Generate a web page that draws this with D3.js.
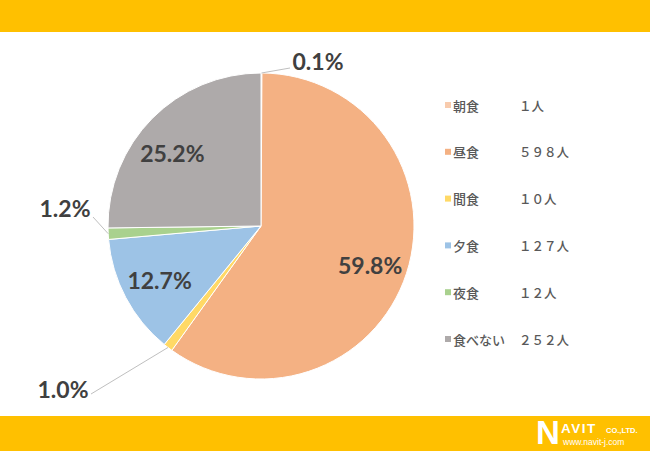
<!DOCTYPE html>
<html><head><meta charset="utf-8">
<script src="https://cdn.jsdelivr.net/npm/d3@7"></script>
<style>
html,body{margin:0;padding:0;background:#fff;}
svg{display:block;}
</style></head>
<body>
<svg id="chart" width="650" height="451"></svg>
<script>
const categories = ["朝食","昼食","間食","夕食","夜食","食べない"];
const counts = [1, 598, 10, 127, 12, 252];
const countLabels = ["１人","５９８人","１０人","１２７人","１２人","２５２人"];
const percentLabels = ["0.1%","59.8%","1.0%","12.7%","1.2%","25.2%"];
const colors = ["#F8CBAD","#F4B183","#FFD966","#9DC3E6","#A9D18E","#AEAAAA"];
// outside-label layout (text centre and leader end, relative to pie centre) for the small slices
const outsideLabels = { 0: [57, -165, 29, -158], 2: [-198, 163, -170, 168], 4: [-196, -18, -168, -9] };
// small nudges for inside labels (Excel-style placement)
const insideNudge = { 1: [0, 4], 3: [0, 0], 5: [-7, 8] };

const W = 650, H = 451;
const cx = 261, cy = 226, r = 153;
const svg = d3.select("#chart");

svg.append("rect").attr("x",0).attr("y",0).attr("width",W).attr("height",32).attr("fill","#FFC000");
svg.append("rect").attr("x",0).attr("y",416).attr("width",W).attr("height",H-416).attr("fill","#FFC000");

const pie = d3.pie().value(d => d).sort(null);
const arcs = pie(counts);
const arc = d3.arc().innerRadius(0).outerRadius(r);
const labelArc = d3.arc().innerRadius(r*0.5).outerRadius(r);
const edgeArc = d3.arc().innerRadius(r).outerRadius(r);

const g = svg.append("g").attr("transform", `translate(${cx},${cy})`);
g.selectAll("path.slice").data(arcs).enter().append("path")
  .attr("class","slice")
  .attr("d", arc)
  .attr("fill", (d,i) => colors[i])
  .attr("stroke", "#fff").attr("stroke-width", 1);

const labelFont = "Lato, 'Open Sans', sans-serif";
arcs.forEach((d,i) => {
  if (outsideLabels[i]) {
    const [tx, ty, lx, ly] = outsideLabels[i];
    const p = edgeArc.centroid(d);
    g.append("line").attr("x1", p[0]).attr("y1", p[1]).attr("x2", lx).attr("y2", ly)
      .attr("stroke", "#BFBFBF").attr("stroke-width", 1);
    g.append("text").attr("x", tx).attr("y", ty).attr("text-anchor","middle")
      .attr("dominant-baseline","central")
      .attr("font-family", labelFont).attr("font-weight", 700).attr("font-size", 23)
      .attr("fill", "#404040").text(percentLabels[i]);
  } else {
    const c = labelArc.centroid(d);
    const n = insideNudge[i] || [0,0];
    g.append("text").attr("x", c[0] + n[0]).attr("y", c[1] + n[1]).attr("text-anchor","middle")
      .attr("dominant-baseline","central")
      .attr("font-family", labelFont).attr("font-weight", 700).attr("font-size", 23)
      .attr("fill", "#404040").text(percentLabels[i]);
  }
});

// legend
const ly = d3.scalePoint().domain(categories).range([105, 339]);
const leg = svg.append("g");
categories.forEach((c,i) => {
  const y = ly(c);
  leg.append("rect").attr("x", 445).attr("y", y-3).attr("width", 6).attr("height", 6).attr("fill", colors[i]);
  leg.append("text").attr("x", 453).attr("y", y).attr("dominant-baseline","central")
    .attr("font-family","'Noto Sans CJK JP', sans-serif").attr("font-size", 13).attr("font-weight", 500)
    .attr("fill","#595959").text(c);
  leg.append("text").attr("x", 519).attr("y", y).attr("dominant-baseline","central")
    .attr("font-family","'Noto Sans CJK JP', sans-serif").attr("font-size", 12.5).attr("font-weight", 500)
    .attr("fill","#595959").text(countLabels[i]);
});

// logo
const logo = svg.append("g").attr("fill","#fff").attr("font-family","'Liberation Sans', Arial, sans-serif").attr("font-weight",700);
logo.append("text").attr("x",536).attr("y",444).attr("font-size",33).text("N");
logo.append("text").attr("x",561).attr("y",433).attr("font-size",13.5).attr("letter-spacing",1.5).text("AVIT");
logo.append("text").attr("x",606).attr("y",433).attr("font-size",7.5).text("CO.,LTD.");
logo.append("text").attr("x",563).attr("y",444.5).attr("font-size",8.5).attr("font-weight",400).text("www.navit-j.com");
</script>
</body></html>
